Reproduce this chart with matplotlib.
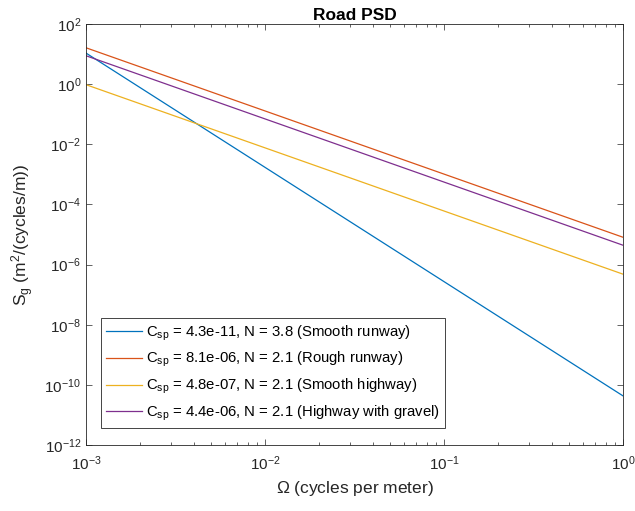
import matplotlib
matplotlib.use("Agg")
import matplotlib.pyplot as plt
from matplotlib.ticker import LogLocator, NullLocator, FixedLocator

# Data (endpoints of each straight log-log line)
omega = [1e-3, 1.0]
labels = [
    r"C$_{\mathregular{sp}}$ = 4.3e-11, N = 3.8 (Smooth runway)",
    r"C$_{\mathregular{sp}}$ = 8.1e-06, N = 2.1 (Rough runway)",
    r"C$_{\mathregular{sp}}$ = 4.8e-07, N = 2.1 (Smooth highway)",
    r"C$_{\mathregular{sp}}$ = 4.4e-06, N = 2.1 (Highway with gravel)",
]
smooth_runway = [10.8, 4.3e-11]
rough_runway = [16.2, 8.1e-6]
smooth_highway = [0.96, 4.8e-7]
highway_gravel = [8.8, 4.4e-6]
colors = ["#0072BD", "#D95319", "#EDB120", "#7E2F8E"]

plt.rcParams["font.family"] = ["Liberation Sans", "DejaVu Sans"]
plt.rcParams["mathtext.fontset"] = "custom"
plt.rcParams["mathtext.rm"] = "Liberation Sans"
plt.rcParams["mathtext.it"] = "Liberation Sans"
plt.rcParams["font.size"] = 10

fig = plt.figure(figsize=(6.35, 5.11), dpi=100)
ax = fig.add_axes([86 / 635, 66 / 511, 537 / 635, 421 / 511])

series = [smooth_runway, rough_runway, smooth_highway, highway_gravel]
for s, lab, c in zip(series, labels, colors):
    ax.loglog(omega, s, color=c, lw=0.9, label=lab)

ax.set_xlim(1e-3, 1)
ax.set_ylim(1e-12, 1e2)
ax.yaxis.set_major_locator(FixedLocator([10.0 ** k for k in range(-12, 3, 2)]))
ax.yaxis.set_minor_locator(NullLocator())
ax.xaxis.set_minor_locator(LogLocator(base=10, subs=range(2, 10)))

for sp in ax.spines.values():
    sp.set_linewidth(0.6)
    sp.set_color("#262626")
ax.tick_params(which="both", direction="in", top=True, right=True,
               colors="#262626", width=0.5)
ax.tick_params(which="major", length=4, labelsize=11)
ax.tick_params(which="minor", length=2)
ax.tick_params(axis="x", pad=7)

ax.set_xlabel(r"$\Omega$ (cycles per meter)", fontsize=12.5, color="#262626")
ax.set_ylabel(r"S$_\mathregular{g}$ (m$^\mathregular{2}$/(cycles/m))", fontsize=12.5,
              color="#262626", labelpad=6)
ax.set_title("Road PSD", fontsize=12.5, fontweight="bold", pad=3)

leg = ax.legend(loc="lower left", bbox_to_anchor=(0.028, 0.04), fancybox=False,
                framealpha=1, edgecolor="#262626", fontsize=10.7, handlelength=2.4,
                borderpad=0.35, labelspacing=0.5, handletextpad=0.3,
                borderaxespad=0)
leg.get_frame().set_linewidth(0.6)

fig.savefig("out.png", dpi=100)
